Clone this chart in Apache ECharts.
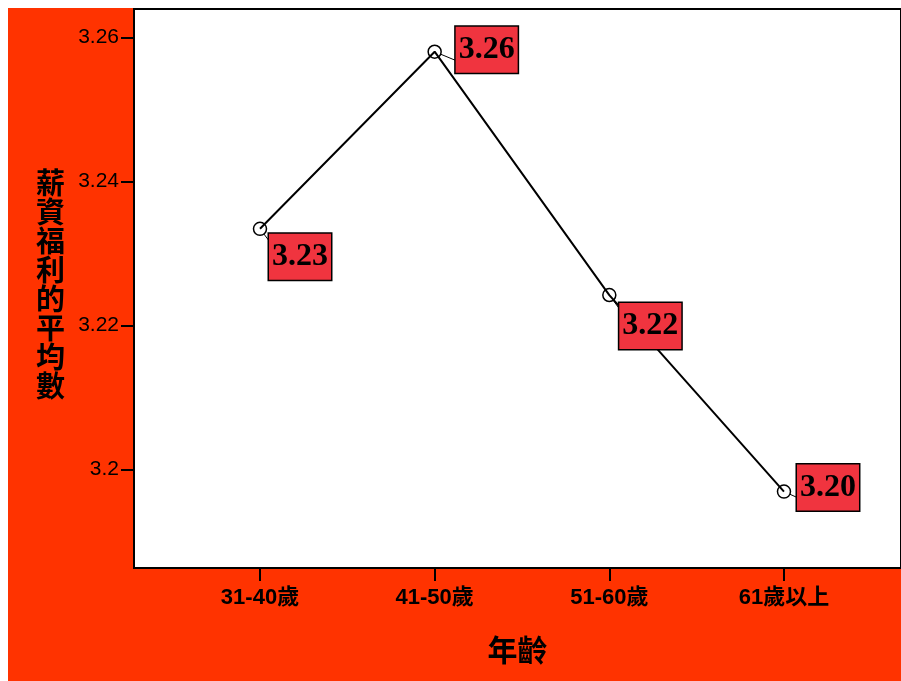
<!DOCTYPE html>
<html><head><meta charset="utf-8">
<script src="https://cdn.jsdelivr.net/npm/echarts@6/dist/echarts.min.js"></script>
<style>html,body{margin:0;padding:0;background:#fff;}#wrap{position:relative;width:901px;height:681px;overflow:hidden;background:#fff;}#c{position:absolute;left:8px;top:8px;width:893px;height:673px;}</style>
</head><body><div id="wrap"><div id="c"></div></div>
<script>
const categories = ['31-40歲', '41-50歲', '51-60歲', '61歲以上'];
const meanValues = [3.2334, 3.2580, 3.2242, 3.1969];
const yTicks = [3.2, 3.22, 3.24, 3.26];
const labelOffsets = [[40, 28], [52, -2], [41, 31], [44, -4]];
const xName = '年齡';
const yName = '薪資福利的平均數';

const chart = echarts.init(document.getElementById('c'));
const pts = meanValues.map((v, i) => ({
  value: [i, v],
  label: { offset: labelOffsets[i] }
}));
chart.setOption({
  backgroundColor: '#FF3300',
  animation: false,
  grid: { left: 126, top: 1, right: -4, bottom: 113, show: true, backgroundColor: '#ffffff', borderColor: '#000', borderWidth: 2 },
  xAxis: {
    type: 'value', min: -0.7214, max: 3.67,
    name: xName, nameLocation: 'middle', nameGap: 70,
    nameTextStyle: { fontFamily: 'Liberation Serif, Noto Sans CJK TC', fontWeight: 'bold', fontSize: 30, color: '#000' },
    axisLine: { show: true, onZero: false, lineStyle: { color: '#000', width: 2 } },
    axisTick: { show: true, customValues: [0, 1, 2, 3], length: 13, lineStyle: { color: '#000', width: 2 } },
    axisLabel: { customValues: [0, 1, 2, 3], formatter: v => categories[Math.round(v)], margin: 19, fontFamily: 'Liberation Sans, Noto Sans CJK TC', fontWeight: 'bold', fontSize: 22, color: '#000' },
    splitLine: { show: false }
  },
  yAxis: {
    type: 'value', min: 3.18629, max: 3.26393,
    name: yName.split('').join('\n'), nameLocation: 'middle', nameGap: 69, nameRotate: 0,
    nameTextStyle: { fontFamily: 'Liberation Serif, Noto Sans CJK TC', fontWeight: 'bold', fontSize: 29, lineHeight: 29, color: '#000' },
    axisLine: { show: true, onZero: false, lineStyle: { color: '#000', width: 2 } },
    axisTick: { show: true, customValues: yTicks, length: 13, lineStyle: { color: '#000', width: 2 } },
    axisLabel: { customValues: yTicks, margin: 15, fontFamily: 'Liberation Sans, Arial', fontSize: 21, color: '#000' },
    splitLine: { show: false }
  },
  series: [{
    type: 'line',
    data: pts,
    symbol: 'circle', symbolSize: 13,
    itemStyle: { color: 'rgba(0,0,0,0)', borderColor: '#000', borderWidth: 1.5 },
    lineStyle: { color: '#000', width: 2 },
    label: {
      show: true, position: 'inside',
      formatter: p => p.value[1].toFixed(2),
      fontFamily: 'Liberation Serif, Times New Roman, serif', fontWeight: 'bold', fontSize: 32, lineHeight: 32,
      color: '#000', backgroundColor: '#F0343F', borderColor: '#000', borderWidth: 1.5,
      padding: [7, 3, 7, 3]
    },
    labelLine: { show: true, lineStyle: { color: '#000', width: 1 } }
  }]
});
</script></body></html>
